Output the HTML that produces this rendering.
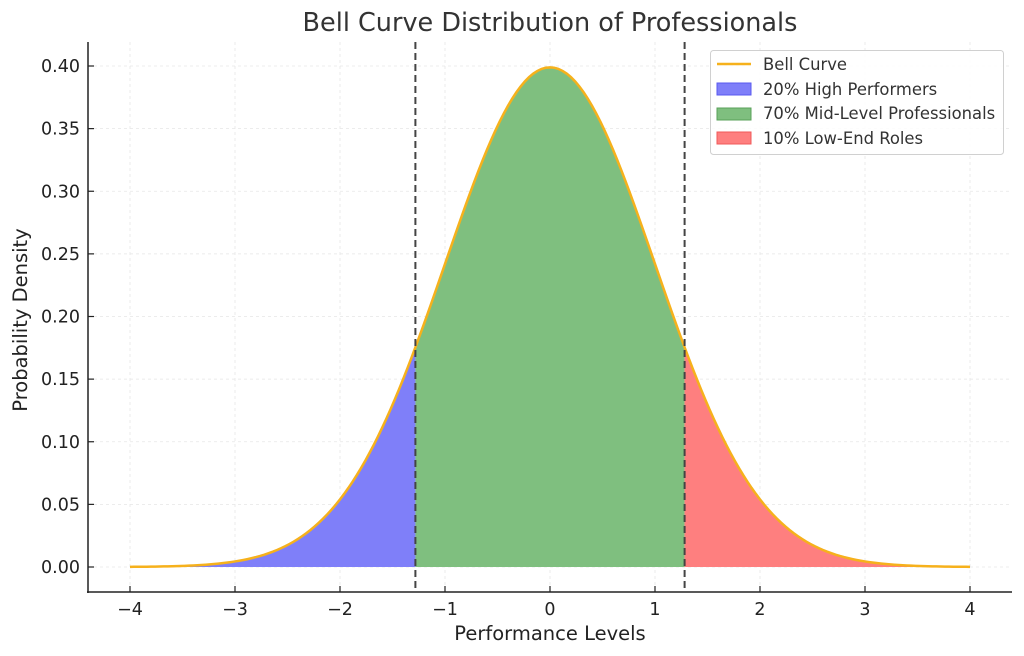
<!DOCTYPE html>
<html><head><meta charset="utf-8"><style>
body{margin:0;background:#fff}
svg{display:block;font-family:"DejaVu Sans","Liberation Sans",sans-serif}
</style></head><body>
<svg id="s" width="1024" height="656" xmlns="http://www.w3.org/2000/svg">
<rect width="1024" height="656" fill="#fff"/>
<g id="grid" stroke="#e6e6e6" stroke-dasharray="3,3" stroke-width="0.8"></g>
<path id="blue" fill="#7f7ff9" stroke="none"/>
<path id="green" fill="#7fbf7f" stroke="none"/>
<path id="red" fill="#fe7f7f" stroke="none"/>
<path id="curve" fill="none" stroke="#f6b11c" stroke-width="2.5"/>
<line x1="415.4" y1="42" x2="415.4" y2="592" stroke="#444" stroke-width="2" stroke-dasharray="7,4"/>
<line x1="684.6" y1="42" x2="684.6" y2="592" stroke="#444" stroke-width="2" stroke-dasharray="7,4"/>
<line x1="88" y1="42" x2="88" y2="593" stroke="#222" stroke-width="1.5"/>
<line x1="87" y1="592" x2="1012" y2="592" stroke="#222" stroke-width="1.5"/>
<g id="ticks" stroke="#222" stroke-width="1.2"></g>
<g id="labels" font-size="17.5" fill="#222"></g>
<text x="550" y="31" font-size="25.5" text-anchor="middle" fill="#333">Bell Curve Distribution of Professionals</text>
<text x="550" y="640" font-size="19.5" text-anchor="middle" fill="#222">Performance Levels</text>
<text transform="translate(27,320) rotate(-90)" font-size="19.5" text-anchor="middle" fill="#222">Probability Density</text>
<rect x="710.5" y="50.5" width="293" height="104" rx="3" fill="#fff" fill-opacity="0.85" stroke="#d0d0d0"/>
<line x1="717" y1="64" x2="751" y2="64" stroke="#f6b11c" stroke-width="2.5"/>
<rect x="717" y="83" width="34" height="12" fill="#7f7ff9" stroke="#5a5af0"/>
<rect x="717" y="108" width="34" height="12" fill="#7fbf7f" stroke="#5aa05a"/>
<rect x="717" y="132" width="34" height="12" fill="#fe7f7f" stroke="#f05a5a"/>
<g font-size="16.4" fill="#333">
<text x="763" y="70">Bell Curve</text>
<text x="763" y="95">20% High Performers</text>
<text x="763" y="119">70% Mid-Level Professionals</text>
<text x="763" y="144">10% Low-End Roles</text>
</g>
</svg>
<script>
var X=function(v){return 550+105*v},Y=function(p){return 567-1252.5*p};
function pdf(x){return Math.exp(-x*x/2)/Math.sqrt(2*Math.PI)}
function seg(a,b,fill){var d="",n=200;for(var i=0;i<=n;i++){var x=a+(b-a)*i/n;d+=(i?"L":"M")+X(x).toFixed(2)+","+Y(pdf(x)).toFixed(2)}if(fill)d+="L"+X(b)+","+Y(0)+"L"+X(a)+","+Y(0)+"Z";return d}
var z=1.2816;
document.getElementById("blue").setAttribute("d",seg(-4,-z,1));
document.getElementById("green").setAttribute("d",seg(-z,z,1));
document.getElementById("red").setAttribute("d",seg(z,4,1));
document.getElementById("curve").setAttribute("d",seg(-4,4,0));
var g=document.getElementById("grid"),t=document.getElementById("ticks"),l=document.getElementById("labels"),ns="http://www.w3.org/2000/svg";
function el(p,n,a,txt){var e=document.createElementNS(ns,n);for(var k in a)e.setAttribute(k,a[k]);if(txt)e.textContent=txt;p.appendChild(e)}
for(var i=-4;i<=4;i++){var x=X(i);el(g,"line",{x1:x,y1:42,x2:x,y2:592});el(t,"line",{x1:x,y1:592,x2:x,y2:586});el(l,"text",{x:x,y:615,"text-anchor":"middle"},(i<0?"\u2212"+(-i):""+i))}
for(var j=0;j<=8;j++){var p=j*0.05,y=Y(p);el(g,"line",{x1:88,y1:y,x2:1012,y2:y});el(t,"line",{x1:88,y1:y,x2:94,y2:y});el(l,"text",{x:80,y:y+6,"text-anchor":"end"},p.toFixed(2))}
</script>
</body></html>
